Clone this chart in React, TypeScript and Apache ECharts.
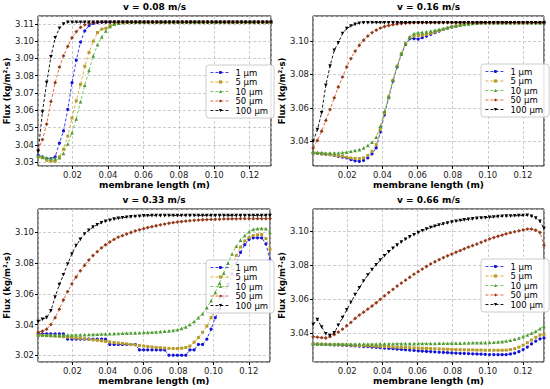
import React, { useEffect, useRef } from "react";
import * as echarts from "echarts";

const X = [
  0.0006, 0.003, 0.0054, 0.0078, 0.0102, 0.0126, 0.0149, 0.0173, 0.0197, 0.0221,
  0.0245, 0.0269, 0.0293, 0.0317, 0.0341, 0.0365, 0.0388, 0.0412, 0.0436, 0.046,
  0.0484, 0.0508, 0.0532, 0.0556, 0.058, 0.0604, 0.0627, 0.0651, 0.0675, 0.0699,
  0.0723, 0.0747, 0.0771, 0.0795, 0.0819, 0.0843, 0.0866, 0.089, 0.0914, 0.0938,
  0.0962, 0.0986, 0.101, 0.1034, 0.1058, 0.1082, 0.1105, 0.1129, 0.1153, 0.1177,
  0.1201, 0.1225, 0.1249, 0.1273, 0.1297, 0.132,
];

const NAMES = ["1 μm", "5 μm", "10 μm", "50 μm", "100 μm"];
const TITLES = ["v = 0.08 m/s", "v = 0.16 m/s", "v = 0.33 m/s", "v = 0.66 m/s"];

// ---- v = 0.08 m/s ----
const P1_1UM = [
  3.034, 3.033, 3.032, 3.032, 3.033, 3.041, 3.048, 3.0605, 3.076, 3.089,
  3.0995, 3.106, 3.109, 3.1103, 3.1108, 3.111, 3.111, 3.111, 3.111, 3.111,
  3.111, 3.111, 3.111, 3.111, 3.111, 3.111, 3.111, 3.111, 3.111, 3.111,
  3.111, 3.111, 3.111, 3.111, 3.111, 3.111, 3.111, 3.111, 3.111, 3.111,
  3.111, 3.111, 3.111, 3.111, 3.111, 3.111, 3.111, 3.111, 3.111, 3.111,
  3.111, 3.111, 3.111, 3.111, 3.111, 3.111,
];
const P1_5UM = [
  3.033, 3.0325, 3.031, 3.0305, 3.0305, 3.033, 3.0375, 3.045, 3.0555, 3.0655,
  3.075, 3.0855, 3.0935, 3.1, 3.105, 3.107, 3.1075, 3.109, 3.1103, 3.111,
  3.111, 3.111, 3.111, 3.111, 3.111, 3.111, 3.111, 3.111, 3.111, 3.111,
  3.111, 3.111, 3.111, 3.111, 3.111, 3.111, 3.111, 3.111, 3.111, 3.111,
  3.111, 3.111, 3.111, 3.111, 3.111, 3.111, 3.111, 3.111, 3.111, 3.111,
  3.111, 3.111, 3.111, 3.111, 3.111, 3.111,
];
const P1_10UM = [
  3.0335, 3.033, 3.0325, 3.032, 3.032, 3.0325, 3.035, 3.0405, 3.047, 3.055,
  3.065, 3.0745, 3.083, 3.0915, 3.098, 3.1025, 3.106, 3.1085, 3.1098, 3.1105,
  3.1108, 3.111, 3.111, 3.111, 3.111, 3.111, 3.111, 3.111, 3.111, 3.111,
  3.111, 3.111, 3.111, 3.111, 3.111, 3.111, 3.111, 3.111, 3.111, 3.111,
  3.111, 3.111, 3.111, 3.111, 3.111, 3.111, 3.111, 3.111, 3.111, 3.111,
  3.111, 3.111, 3.111, 3.111, 3.111, 3.111,
];
const P1_50UM = [
  3.037, 3.043, 3.052, 3.065, 3.076, 3.085, 3.0915, 3.097, 3.102, 3.1055,
  3.108, 3.1095, 3.1103, 3.1108, 3.111, 3.111, 3.111, 3.111, 3.111, 3.111,
  3.111, 3.111, 3.111, 3.111, 3.111, 3.111, 3.111, 3.111, 3.111, 3.111,
  3.111, 3.111, 3.111, 3.111, 3.111, 3.111, 3.111, 3.111, 3.111, 3.111,
  3.111, 3.111, 3.111, 3.111, 3.111, 3.111, 3.111, 3.111, 3.111, 3.111,
  3.111, 3.111, 3.111, 3.111, 3.111, 3.111,
];
const P1_100UM = [
  3.036, 3.059, 3.076, 3.091, 3.102, 3.1075, 3.11, 3.111, 3.111, 3.111,
  3.111, 3.111, 3.111, 3.111, 3.111, 3.111, 3.111, 3.111, 3.111, 3.111,
  3.111, 3.111, 3.111, 3.111, 3.111, 3.111, 3.111, 3.111, 3.111, 3.111,
  3.111, 3.111, 3.111, 3.111, 3.111, 3.111, 3.111, 3.111, 3.111, 3.111,
  3.111, 3.111, 3.111, 3.111, 3.111, 3.111, 3.111, 3.111, 3.111, 3.111,
  3.111, 3.111, 3.111, 3.111, 3.111, 3.111,
];

// ---- v = 0.16 m/s ----
const P2_1UM = [
  3.033, 3.0328, 3.0325, 3.0322, 3.032, 3.0315, 3.031, 3.0305, 3.03, 3.029,
  3.0283, 3.028, 3.0285, 3.03, 3.0325, 3.036, 3.0455, 3.056, 3.066, 3.076,
  3.0845, 3.092, 3.098, 3.1015, 3.1015, 3.1012, 3.102, 3.103, 3.104, 3.105,
  3.106, 3.107, 3.1078, 3.1085, 3.109, 3.1095, 3.11, 3.1103, 3.1106, 3.1108,
  3.111, 3.111, 3.111, 3.111, 3.111, 3.111, 3.111, 3.111, 3.111, 3.111,
  3.111, 3.111, 3.111, 3.111, 3.111, 3.111,
];
const P2_5UM = [
  3.033, 3.0328, 3.0325, 3.0322, 3.032, 3.0317, 3.0313, 3.031, 3.0305, 3.03,
  3.0297, 3.0297, 3.03, 3.0315, 3.034, 3.038, 3.047, 3.057, 3.0665, 3.0765,
  3.085, 3.0925, 3.0985, 3.102, 3.103, 3.1032, 3.1035, 3.104, 3.1047, 3.1055,
  3.1062, 3.107, 3.1078, 3.1085, 3.109, 3.1095, 3.11, 3.1103, 3.1106, 3.1108,
  3.111, 3.111, 3.111, 3.111, 3.111, 3.111, 3.111, 3.111, 3.111, 3.111,
  3.111, 3.111, 3.111, 3.111, 3.111, 3.111,
];
const P2_10UM = [
  3.0335, 3.0333, 3.0332, 3.033, 3.033, 3.033, 3.033, 3.0332, 3.0335, 3.034,
  3.0345, 3.035, 3.036, 3.0375, 3.0395, 3.0425, 3.049, 3.058, 3.067, 3.0765,
  3.085, 3.0925, 3.0985, 3.1025, 3.1045, 3.105, 3.1052, 3.1055, 3.106, 3.1065,
  3.107, 3.1075, 3.108, 3.1087, 3.1092, 3.1097, 3.11, 3.1103, 3.1106, 3.1108,
  3.111, 3.111, 3.111, 3.111, 3.111, 3.111, 3.111, 3.111, 3.111, 3.111,
  3.111, 3.111, 3.111, 3.111, 3.111, 3.111,
];
const P2_50UM = [
  3.036, 3.0405, 3.046, 3.0525, 3.059, 3.066, 3.0725, 3.0785, 3.0845, 3.0895,
  3.094, 3.0975, 3.1005, 3.103, 3.105, 3.1065, 3.1078, 3.1087, 3.1093, 3.1098,
  3.1102, 3.1105, 3.1107, 3.1109, 3.111, 3.111, 3.111, 3.111, 3.111, 3.111,
  3.111, 3.111, 3.111, 3.111, 3.111, 3.111, 3.111, 3.111, 3.111, 3.111,
  3.111, 3.111, 3.111, 3.111, 3.111, 3.111, 3.111, 3.111, 3.111, 3.111,
  3.111, 3.111, 3.111, 3.111, 3.111, 3.111,
];
const P2_100UM = [
  3.04, 3.047, 3.057, 3.0735, 3.085, 3.0945, 3.099, 3.1045, 3.1075, 3.109,
  3.11, 3.1107, 3.111, 3.111, 3.111, 3.111, 3.111, 3.111, 3.111, 3.111,
  3.111, 3.111, 3.111, 3.111, 3.111, 3.111, 3.111, 3.111, 3.111, 3.111,
  3.111, 3.111, 3.111, 3.111, 3.111, 3.111, 3.111, 3.111, 3.111, 3.111,
  3.111, 3.111, 3.111, 3.111, 3.111, 3.111, 3.111, 3.111, 3.111, 3.111,
  3.111, 3.111, 3.111, 3.111, 3.111, 3.111,
];

// ---- v = 0.33 m/s ----
const P3_1UM = [
  3.034, 3.034, 3.034, 3.034, 3.034, 3.034, 3.034, 3.0305, 3.0305, 3.0305,
  3.0305, 3.0305, 3.0305, 3.0305, 3.0305, 3.0305, 3.0305, 3.027, 3.027, 3.027,
  3.027, 3.027, 3.027, 3.027, 3.0235, 3.0235, 3.0235, 3.0235, 3.0235, 3.0235,
  3.0235, 3.02, 3.02, 3.02, 3.02, 3.02, 3.0235, 3.0235, 3.027, 3.027,
  3.0305, 3.037, 3.0445, 3.05, 3.058, 3.066, 3.073, 3.08, 3.087, 3.092,
  3.0955, 3.0965, 3.0965, 3.0965, 3.0925, 3.082,
];
const P3_5UM = [
  3.033, 3.033, 3.0328, 3.0326, 3.0324, 3.0322, 3.032, 3.0318, 3.0315, 3.0312,
  3.031, 3.0307, 3.0304, 3.03, 3.0297, 3.0294, 3.029, 3.0287, 3.0283, 3.028,
  3.0277, 3.0274, 3.027, 3.0267, 3.0264, 3.026, 3.0257, 3.0254, 3.0251, 3.0249,
  3.0247, 3.0245, 3.0244, 3.0244, 3.0246, 3.025, 3.026, 3.0285, 3.0315, 3.035,
  3.039, 3.0445, 3.05, 3.057, 3.064, 3.071, 3.078, 3.085, 3.0905, 3.0945,
  3.0968, 3.098, 3.0985, 3.0987, 3.096, 3.089,
];
const P3_10UM = [
  3.0333, 3.0332, 3.0331, 3.0331, 3.0331, 3.0331, 3.0331, 3.0332, 3.0332, 3.0333,
  3.0333, 3.0334, 3.0335, 3.0336, 3.0337, 3.0338, 3.0339, 3.034, 3.0341, 3.0342,
  3.0343, 3.0344, 3.0345, 3.0346, 3.0347, 3.0348, 3.0349, 3.035, 3.0352, 3.0354,
  3.0356, 3.0359, 3.0362, 3.0366, 3.0375, 3.0385, 3.04, 3.042, 3.0445, 3.047,
  3.051, 3.0555, 3.061, 3.067, 3.0735, 3.08, 3.086, 3.091, 3.095, 3.098,
  3.1005, 3.102, 3.1025, 3.1027, 3.1025, 3.1,
];
const P3_50UM = [
  3.035, 3.0357, 3.037, 3.04, 3.0445, 3.05, 3.056, 3.0615, 3.0665, 3.071,
  3.075, 3.0785, 3.082, 3.085, 3.0875, 3.09, 3.092, 3.0938, 3.0955, 3.097,
  3.098, 3.099, 3.1, 3.101, 3.1017, 3.1025, 3.1032, 3.1038, 3.1044, 3.105,
  3.1055, 3.106, 3.1064, 3.1068, 3.1071, 3.1074, 3.1077, 3.1079, 3.1081, 3.1083,
  3.1084, 3.1085, 3.1086, 3.1087, 3.1088, 3.1088, 3.1089, 3.1089, 3.109, 3.109,
  3.109, 3.109, 3.109, 3.109, 3.109, 3.109,
];
const P3_100UM = [
  3.042, 3.0435, 3.0445, 3.049, 3.058, 3.066, 3.0725, 3.0795, 3.086, 3.0915,
  3.0955, 3.099, 3.1015, 3.1035, 3.105, 3.1063, 3.1073, 3.108, 3.1087, 3.1092,
  3.1096, 3.1099, 3.1102, 3.1104, 3.1106, 3.1108, 3.1109, 3.111, 3.111, 3.111,
  3.111, 3.111, 3.111, 3.111, 3.111, 3.111, 3.111, 3.111, 3.111, 3.111,
  3.111, 3.111, 3.111, 3.111, 3.111, 3.111, 3.111, 3.111, 3.111, 3.111,
  3.111, 3.111, 3.111, 3.111, 3.111, 3.111,
];

// ---- v = 0.66 m/s ----
const P4_1UM = [
  3.0335, 3.0334, 3.0333, 3.0332, 3.0331, 3.033, 3.0329, 3.0328, 3.0327, 3.0325,
  3.0324, 3.0322, 3.032, 3.0319, 3.0317, 3.0315, 3.0313, 3.0311, 3.0309, 3.0307,
  3.0305, 3.0303, 3.0301, 3.0299, 3.0297, 3.0295, 3.0293, 3.0291, 3.029, 3.0288,
  3.0287, 3.0285, 3.0284, 3.0282, 3.0281, 3.028, 3.0279, 3.0278, 3.0277, 3.0276,
  3.0275, 3.0274, 3.0273, 3.0273, 3.0272, 3.0272, 3.0273, 3.0276, 3.0281, 3.029,
  3.0302, 3.0317, 3.0335, 3.0352, 3.0365, 3.037,
];
const P4_5UM = [
  3.0335, 3.0334, 3.0334, 3.0333, 3.0332, 3.0331, 3.0331, 3.033, 3.0329, 3.0328,
  3.0327, 3.0326, 3.0325, 3.0324, 3.0323, 3.0322, 3.0321, 3.032, 3.0319, 3.0317,
  3.0316, 3.0315, 3.0314, 3.0313, 3.0312, 3.0311, 3.031, 3.0309, 3.0308, 3.0307,
  3.0306, 3.0305, 3.0304, 3.0303, 3.0302, 3.0301, 3.0301, 3.03, 3.03, 3.0299,
  3.0299, 3.0298, 3.0298, 3.0298, 3.0298, 3.0298, 3.0299, 3.0302, 3.0307, 3.0316,
  3.0328, 3.0342, 3.0358, 3.0374, 3.0387, 3.0392,
];
const P4_10UM = [
  3.0335, 3.0335, 3.0335, 3.0335, 3.0335, 3.0335, 3.0335, 3.0335, 3.0335, 3.0335,
  3.0335, 3.0335, 3.0335, 3.0335, 3.0335, 3.0335, 3.0336, 3.0336, 3.0336, 3.0336,
  3.0337, 3.0337, 3.0337, 3.0337, 3.0337, 3.0338, 3.0338, 3.0338, 3.0338, 3.0338,
  3.0339, 3.0339, 3.0339, 3.034, 3.034, 3.034, 3.0341, 3.0341, 3.0342, 3.0342,
  3.0343, 3.0343, 3.0344, 3.0345, 3.0347, 3.0349, 3.0352, 3.0357, 3.0363, 3.037,
  3.0378, 3.0388, 3.0398, 3.041, 3.0425, 3.0438,
];
const P4_50UM = [
  3.0378, 3.0375, 3.0372, 3.037, 3.0378, 3.039, 3.0405, 3.0422, 3.0442, 3.0462,
  3.0485, 3.0505, 3.0522, 3.054, 3.0558, 3.0577, 3.0597, 3.0617, 3.0637, 3.0656,
  3.0675, 3.0693, 3.071, 3.0727, 3.0745, 3.076, 3.0775, 3.079, 3.0805, 3.0818,
  3.083, 3.0842, 3.0853, 3.0863, 3.0874, 3.0884, 3.0894, 3.0904, 3.0913, 3.0922,
  3.0932, 3.0942, 3.0952, 3.096, 3.0968, 3.0975, 3.0982, 3.0989, 3.0995, 3.1,
  3.1005, 3.101, 3.101, 3.1003, 3.099, 3.0915,
];
const P4_100UM = [
  3.045, 3.0478, 3.0435, 3.0395, 3.0385, 3.04, 3.0445, 3.049, 3.0535, 3.058,
  3.0625, 3.0665, 3.0705, 3.074, 3.0772, 3.08, 3.0828, 3.0853, 3.0876, 3.0897,
  3.0916, 3.0934, 3.095, 3.0964, 3.0977, 3.0989, 3.1, 3.101, 3.1019, 3.1027,
  3.1034, 3.104, 3.1046, 3.1051, 3.1056, 3.106, 3.1064, 3.1067, 3.107, 3.1073,
  3.1075, 3.1077, 3.1079, 3.1081, 3.1083, 3.1085, 3.1086, 3.1087, 3.1088, 3.1089,
  3.109, 3.1091, 3.1085, 3.1075, 3.1055, 3.1015,
];

const PANEL_DATA = [
  [P1_1UM, P1_5UM, P1_10UM, P1_50UM, P1_100UM],
  [P2_1UM, P2_5UM, P2_10UM, P2_50UM, P2_100UM],
  [P3_1UM, P3_5UM, P3_10UM, P3_50UM, P3_100UM],
  [P4_1UM, P4_5UM, P4_10UM, P4_50UM, P4_100UM],
];

const Y_MIN = [3.0277, 3.0252, 3.0156, 3.0229];
const Y_MAX = [3.1146, 3.115, 3.1153, 3.1128];
const Y_STEP = [0.01, 0.02, 0.02, 0.02];
const X_MIN = 0.0005;
const X_MAX = 0.132;
const X_STEP = 0.02;

const FONT = "DejaVu Sans";

const STYLES = [
  { line: "#2a2af0", marker: "#1515d8", symbol: "circle", size: 3.2, rotate: 0 },
  { line: "#d9a520", marker: "#b59c2e", symbol: "rect", size: 3, rotate: 0 },
  { line: "#6cc24a", marker: "#4f9a35", symbol: "triangle", size: 3.6, rotate: 0 },
  { line: "#e8552a", marker: "#8e3c1c", symbol: "diamond", size: 3.8, rotate: 0 },
  { line: "#000000", marker: "#000000", symbol: "triangle", size: 3.6, rotate: 180 },
];

const GRIDS = [
  { left: 38, top: 16, width: 233, height: 150 },
  { left: 313, top: 16, width: 231, height: 150 },
  { left: 38, top: 209, width: 232, height: 153 },
  { left: 313, top: 209, width: 231, height: 153 },
];

const LEGEND_POS = [
  { left: 206, top: 65 },
  { left: 481, top: 64 },
  { left: 206, top: 260 },
  { left: 481, top: 259 },
];

export default function App() {
  const ref = useRef<HTMLDivElement>(null);

  useEffect(() => {
    if (!ref.current) return;
    const chart = echarts.init(ref.current, null, { renderer: "svg" });

    const series: any[] = [];
    PANEL_DATA.forEach((panel, pi) => {
      panel.forEach((ys, si) => {
        const st = STYLES[si];
        series.push({
          type: "line",
          name: NAMES[si],
          xAxisIndex: pi,
          yAxisIndex: pi,
          data: ys.map((y, i) => [X[i], y]),
          symbol: st.symbol,
          symbolSize: st.size,
          symbolRotate: st.rotate,
          showSymbol: true,
          showAllSymbol: true,
          lineStyle: { color: st.line, width: 0.9, type: [3, 2] },
          itemStyle: { color: st.marker, borderWidth: 0 },
          emphasis: { disabled: true },
          z: 2 + si,
        });
      });
    });

    const option: any = {
      animation: false,
      backgroundColor: "#ffffff",
      title: TITLES.map((t, i) => ({
        text: t,
        left: GRIDS[i].left + GRIDS[i].width / 2,
        top: GRIDS[i].top - 14,
        textAlign: "center",
        padding: 0,
        textStyle: { fontSize: 9, fontWeight: "bold", fontFamily: FONT, color: "#000" },
      })),
      grid: GRIDS.map((g) => ({
        ...g,
        show: true,
        borderColor: "#000",
        borderWidth: 1,
        backgroundColor: "#fff",
        containLabel: false,
      })),
      legend: LEGEND_POS.map((p) => ({
        ...p,
        orient: "vertical",
        data: NAMES,
        itemWidth: 20,
        itemHeight: 4,
        itemGap: 0.5,
        padding: [3, 6, 3, 4],
        backgroundColor: "rgba(255,255,255,0.85)",
        borderColor: "#cccccc",
        borderWidth: 1,
        borderRadius: 3,
        selectedMode: false,
        lineStyle: { width: 0.9 },
        textStyle: { fontSize: 8.5, fontFamily: FONT, color: "#000", lineHeight: 9 },
      })),
      xAxis: GRIDS.map((_, i) => ({
        type: "value",
        gridIndex: i,
        min: X_MIN,
        max: X_MAX,
        minInterval: X_STEP,
        maxInterval: X_STEP,
        name: "membrane length (m)",
        nameLocation: "middle",
        nameGap: 14,
        nameTextStyle: { fontSize: 9, fontWeight: "bold", fontFamily: FONT, color: "#000" },
        axisLine: { show: false },
        axisTick: { show: true, length: 3, lineStyle: { color: "#000" } },
        axisLabel: {
          fontSize: 8.5,
          fontFamily: FONT,
          color: "#222",
          margin: 4,
          showMinLabel: false,
          showMaxLabel: false,
          formatter: (v: number) => v.toFixed(2),
        },
        splitLine: { show: true, lineStyle: { color: "#c0c0c0", type: [3, 2], width: 0.8 } },
      })),
      yAxis: GRIDS.map((_, i) => ({
        type: "value",
        gridIndex: i,
        min: Y_MIN[i],
        max: Y_MAX[i],
        minInterval: Y_STEP[i],
        maxInterval: Y_STEP[i],
        name: "Flux (kg/m²·s)",
        nameLocation: "middle",
        nameGap: 24,
        nameTextStyle: { fontSize: 8.5, fontWeight: "bold", fontFamily: FONT, color: "#000" },
        axisLine: { show: false },
        axisTick: { show: true, length: 3, lineStyle: { color: "#000" } },
        axisLabel: {
          fontSize: 8.5,
          fontFamily: FONT,
          color: "#222",
          margin: 4,
          showMinLabel: false,
          showMaxLabel: false,
          formatter: (v: number) => v.toFixed(2),
        },
        splitLine: { show: true, lineStyle: { color: "#c0c0c0", type: [3, 2], width: 0.8 } },
      })),
      series,
    };

    chart.setOption(option);
    return () => chart.dispose();
  }, []);

  return (
    <div
      ref={ref}
      style={{ position: "absolute", left: 0, top: 0, width: 550, height: 389, background: "#fff" }}
    />
  );
}
